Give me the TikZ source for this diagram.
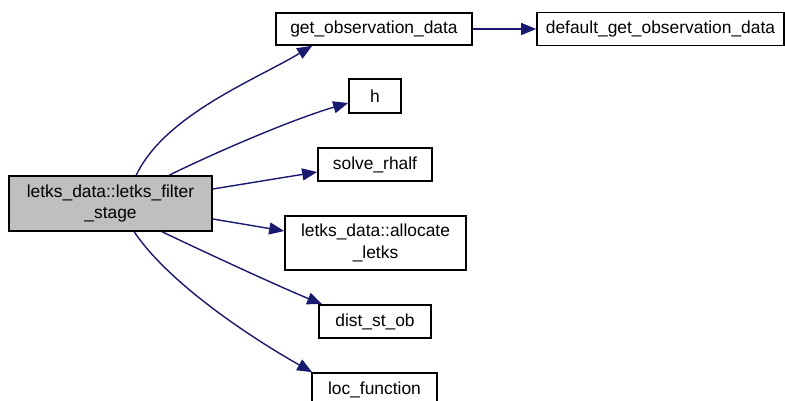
\documentclass[tikz,border=0pt]{standalone}
\usepackage{fontspec}
\setmainfont{Liberation Sans}
\usetikzlibrary{arrows.meta}
\definecolor{edgeblue}{RGB}{25,25,112}
\definecolor{callergray}{RGB}{191,191,191}
\tikzset{
  fnbox/.style={draw=black, line width=1.6pt, fill=white, inner sep=0pt,
    align=center, font=\fontsize{17.4}{21.5}\selectfont},
  rootbox/.style={fnbox, fill=callergray},
  calledge/.style={draw=edgeblue, line width=1.4pt,
    -{Triangle[length=15pt,width=12pt]}}
}
\begin{document}
\begin{tikzpicture}[x=1pt,y=-1pt]
\clip (0,0) rectangle (785,401);
\fill[white] (0,0) rectangle (785,401);

% functions
\node[rootbox, minimum width=203pt, minimum height=55pt] (main) at (110.5,203.5)
  {letks\_data::letks\_filter\\\_stage};
\node[fnbox, minimum width=196pt, minimum height=32pt] (getobs) at (374,29) {get\_observation\_data};
\node[fnbox, minimum width=247pt, minimum height=33pt] (defobs) at (660.5,29) {default\_get\_observation\_data};
\node[fnbox, minimum width=52pt, minimum height=34pt] (h) at (375,96) {h};
\node[fnbox, minimum width=114pt, minimum height=33pt] (solve) at (375,164.5) {solve\_rhalf};
\node[fnbox, minimum width=181pt, minimum height=54pt] (alloc) at (375.5,243) {letks\_data::allocate\\\_letks};
\node[fnbox, minimum width=112pt, minimum height=33pt] (dist) at (375,321.5) {dist\_st\_ob};
\node[fnbox, minimum width=125pt, minimum height=33pt] (loc) at (374.5,389.5) {loc\_function};

% calls
\draw[calledge] ([xshift=128pt]main.north west) .. controls (165,115) and (255,80) .. ([xshift=37pt]getobs.south west);
\draw[calledge] ([xshift=161pt]main.north west) .. controls (210,155) and (290,120) .. ([yshift=-7pt]h.west);
\draw[calledge] ([yshift=14.5pt]main.east) -- ([yshift=-7.5pt]solve.west);
\draw[calledge] ([yshift=-15.5pt]main.east) -- ([yshift=12pt]alloc.west);
\draw[calledge] ([xshift=154pt]main.south west) .. controls (200,250) and (280,287) .. ([xshift=4pt]dist.north west);
\draw[calledge] ([xshift=126pt]main.south west) .. controls (170,285) and (255,340) .. ([xshift=1pt]loc.north west);
\draw[calledge] (getobs.east) -- (defobs.west);
\end{tikzpicture}
\end{document}
